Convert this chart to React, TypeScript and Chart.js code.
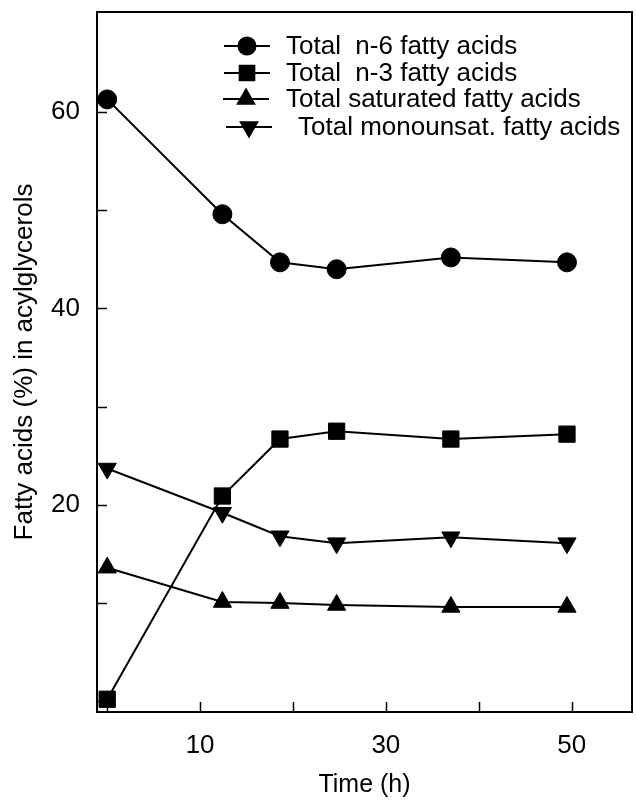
import React, { useEffect, useRef } from 'react';
import { Chart, registerables } from 'chart.js';
import { drawPoint } from 'chart.js/helpers';
Chart.register(...registerables);

const timeH = [0, 12.4, 18.6, 24.7, 37.0, 49.5];
const n6 = [61.3, 49.6, 44.7, 44.0, 45.2, 44.7];
const n3 = [0.2, 20.9, 26.7, 27.5, 26.7, 27.2];
const saturated = [13.6, 10.1, 10.0, 9.8, 9.6, 9.6];
const monounsat = [23.7, 19.2, 16.8, 16.1, 16.7, 16.1];
const seriesLabels = [
  'Total  n-6 fatty acids',
  'Total  n-3 fatty acids',
  'Total saturated fatty acids',
  'Total monounsat. fatty acids',
];
const xTickValues = [0, 10, 20, 30, 40, 50];
const xTickLabels = [10, 30, 50];
const yTickValues = [0, 10, 20, 30, 40, 50, 60];
const yTickLabels = [20, 40, 60];

const FONT = "'Liberation Sans', Arial, Helvetica, sans-serif";

const framePlugin = {
  id: 'frameTicks',
  afterDatasetsDraw(chart: any) {
    const { ctx, chartArea } = chart;
    const xs = chart.scales.x;
    const ys = chart.scales.y;
    ctx.save();
    ctx.strokeStyle = '#000';
    ctx.lineWidth = 2;
    ctx.strokeRect(chartArea.left, chartArea.top, chartArea.right - chartArea.left, chartArea.bottom - chartArea.top);
    ctx.lineWidth = 1.5;
    ctx.beginPath();
    for (const v of xTickValues) {
      const px = Math.round(xs.getPixelForValue(v)) + 0.5;
      ctx.moveTo(px, chartArea.bottom);
      ctx.lineTo(px, chartArea.bottom - 10);
    }
    for (const v of yTickValues) {
      const py = Math.round(ys.getPixelForValue(v)) + 0.5;
      ctx.moveTo(chartArea.left, py);
      ctx.lineTo(chartArea.left + 10, py);
    }
    ctx.stroke();

    // legend
    const rows = [
      { y: 46, lx: 224, tx: 286 },
      { y: 73, lx: 224, tx: 286 },
      { y: 99, lx: 223, tx: 286 },
      { y: 127, lx: 226, tx: 298 },
    ];
    ctx.font = `26px ${FONT}`;
    ctx.textBaseline = 'middle';
    ctx.textAlign = 'left';
    chart.data.datasets.forEach((ds: any, i: number) => {
      const r = rows[i];
      ctx.strokeStyle = '#000';
      ctx.lineWidth = 2;
      ctx.beginPath();
      ctx.moveTo(r.lx, r.y);
      ctx.lineTo(r.lx + 46, r.y);
      ctx.stroke();
      ctx.fillStyle = '#000';
      drawPoint(ctx, {
        pointStyle: ds.pointStyle,
        rotation: ds.pointRotation || 0,
        borderWidth: 1,
        radius: ds.pointRadius * 0.9,
      }, r.lx + 23, r.y);
      ctx.fillStyle = '#000';
      ctx.fillText(ds.label, r.tx, r.y + 1);
    });
    ctx.restore();
  },
};

export default function App() {
  const ref = useRef<HTMLCanvasElement>(null);
  useEffect(() => {
    document.body.style.margin = '0';
    const mk = (label: string, data: number[], style: string, radius: number, rot = 0) => ({
      label,
      data: timeH.map((t, i) => ({ x: t, y: data[i] })),
      borderColor: '#000',
      backgroundColor: '#000',
      borderWidth: 2,
      pointStyle: style,
      pointRadius: radius,
      pointRotation: rot,
      pointBorderWidth: 1,
      pointBorderColor: '#000',
      pointBackgroundColor: '#000',
      tension: 0,
    });
    const chart = new Chart(ref.current!, {
      type: 'line',
      data: {
        datasets: [
          mk(seriesLabels[0], n6, 'circle', 9.5),
          mk(seriesLabels[1], n3, 'rect', 11.5),
          mk(seriesLabels[2], saturated, 'triangle', 10.5),
          mk(seriesLabels[3], monounsat, 'triangle', 10.5, 180),
        ],
      },
      options: {
        animation: false,
        responsive: false,
        layout: { autoPadding: false, padding: { top: 12, right: 4, left: 0, bottom: 0 } },
        plugins: { legend: { display: false }, tooltip: { enabled: false } },
        scales: {
          x: {
            type: 'linear',
            min: -1.1,
            max: 56.5,
            afterBuildTicks: (s: any) => { s.ticks = xTickValues.map((v) => ({ value: v })); },
            afterFit: (s: any) => { s.height = 88; s.paddingLeft = 0; s.paddingRight = 0; },
            grid: { display: false, drawTicks: false },
            border: { display: false },
            ticks: {
              color: '#000',
              font: { family: FONT, size: 26 },
              padding: 18,
              maxRotation: 0,
              autoSkip: false,
              callback: (v: any) => (xTickLabels.includes(Number(v)) ? String(v) : ''),
            },
            title: {
              display: true,
              text: 'Time (h)',
              color: '#000',
              font: { family: FONT, size: 25 },
              padding: { top: 0, bottom: 0 },
            },
          },
          y: {
            type: 'linear',
            min: -1.1,
            max: 70.2,
            afterBuildTicks: (s: any) => { s.ticks = yTickValues.map((v) => ({ value: v })); },
            afterFit: (s: any) => { s.width = 97; s.paddingTop = 0; s.paddingBottom = 0; },
            grid: { display: false, drawTicks: false },
            border: { display: false },
            ticks: {
              color: '#000',
              font: { family: FONT, size: 26 },
              padding: 17,
              autoSkip: false,
              callback: (v: any) => (yTickLabels.includes(Number(v)) ? String(v) : ''),
            },
            title: {
              display: true,
              text: 'Fatty acids (%) in acylglycerols',
              color: '#000',
              font: { family: FONT, size: 26 },
              padding: { top: 9, bottom: 0 },
            },
          },
        },
      },
      plugins: [framePlugin],
    });
    return () => chart.destroy();
  }, []);
  return (
    <div style={{ width: 636, height: 800 }}>
      <canvas ref={ref} width={636} height={800} style={{ display: 'block' }} />
    </div>
  );
}
